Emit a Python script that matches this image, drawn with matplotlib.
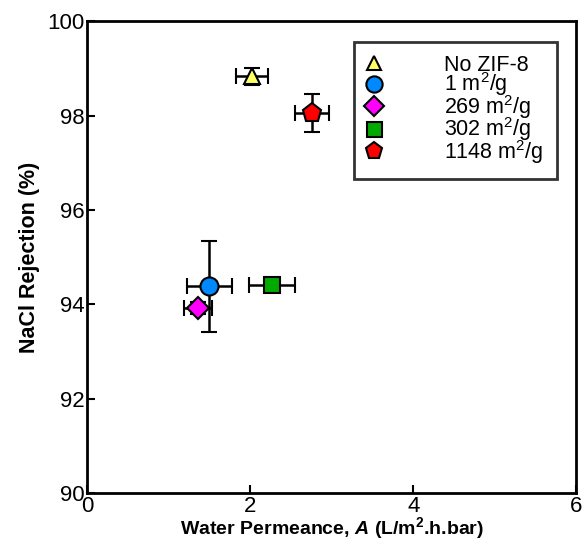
import matplotlib.pyplot as plt
from matplotlib.lines import Line2D

plt.rcParams['font.family'] = ['Liberation Sans', 'DejaVu Sans']
plt.rcParams['mathtext.fontset'] = 'custom'
plt.rcParams['mathtext.rm'] = 'Liberation Sans'
plt.rcParams['mathtext.bf'] = 'Liberation Sans:bold'
plt.rcParams['mathtext.it'] = 'Liberation Sans:italic'
plt.rcParams['mathtext.bfit'] = 'Liberation Sans:bold:italic'

# Data
labels = ['No ZIF-8', '1 m$^2$/g', '269 m$^2$/g', '302 m$^2$/g', '1148 m$^2$/g']
permeance = [2.02, 1.50, 1.36, 2.27, 2.76]
perm_err = [0.20, 0.28, 0.17, 0.28, 0.21]
rejection = [98.83, 94.38, 93.92, 94.40, 98.05]
rej_err = [0.18, 0.97, 0.12, 0.10, 0.40]
markers = ['^', 'o', 'D', 's', 'p']
colors = ['#ffff66', '#0088ff', '#ff00ff', '#00aa00', '#ff0000']
sizes = [11, 13, 11, 12, 14]

fig = plt.figure(figsize=(5.85, 5.43), dpi=100)
ax = fig.add_axes([0.149, 0.092, 0.836, 0.869])

handles = []
for i in range(len(labels)):
    ax.errorbar(permeance[i], rejection[i], xerr=perm_err[i], yerr=rej_err[i],
                fmt=markers[i], color='black', markerfacecolor=colors[i],
                markeredgecolor='black', markeredgewidth=1.5, markersize=sizes[i],
                elinewidth=1.8, capsize=6, capthick=1.8, zorder=3)
    handles.append(Line2D([], [], linestyle='none', marker=markers[i],
                          markerfacecolor=colors[i], markeredgecolor='black',
                          markeredgewidth=1.5, markersize=sizes[i] * 0.9,
                          label=labels[i]))

ax.set_xlim(0, 6)
ax.set_ylim(90, 100)
ax.set_xticks([0, 2, 4, 6])
ax.set_yticks([90, 92, 94, 96, 98, 100])
ax.tick_params(direction='in', length=6, width=1.5, labelsize=16, pad=2)
for s in ax.spines.values():
    s.set_linewidth(2)

ax.set_xlabel('Water Permeance, $\\mathbfit{A}$ (L/m$^\\mathbf{2}$.h.bar)',
              fontsize=14, fontweight='bold', labelpad=-1)
ax.set_ylabel('NaCl Rejection (%)', fontsize=15.5, fontweight='bold', labelpad=5)

leg = ax.legend(handles=handles, loc='upper right', bbox_to_anchor=(0.96, 0.956),
                fontsize=15.5, frameon=True, fancybox=False, edgecolor='black',
                handletextpad=2.9, labelspacing=-0.25, borderpad=0.6,
                handlelength=0.7, borderaxespad=0)
leg.get_frame().set_linewidth(2)

plt.savefig('out.png', dpi=100)
